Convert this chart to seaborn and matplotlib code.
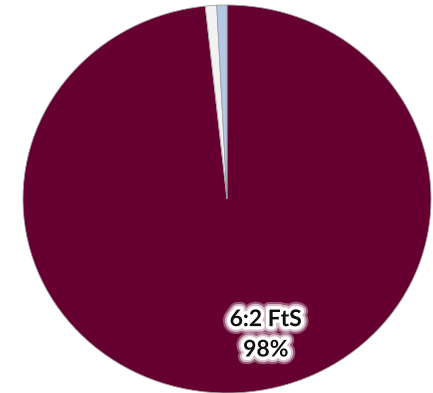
import matplotlib
matplotlib.use("Agg")
import matplotlib.pyplot as plt
import matplotlib.patheffects as pe
import seaborn as sns

categories = ["6:2 FtS", "Other A", "Other B"]
values = [98.3, 0.9, 0.8]
colors = ["#650030", "#f2f2f2", "#b4c7e7"]

sns.set_style("white")
plt.rcParams['font.family'] = ['Lato', 'DejaVu Sans']

fig = plt.figure(figsize=(4.33, 3.93), dpi=100)
ax = fig.add_axes([23/433, 0.0, 408/433, 388/393])
wedges, _ = ax.pie(values, colors=colors, startangle=90, counterclock=False,
                   wedgeprops=dict(edgecolor="#a0a0a0", linewidth=0.6))
ax.set_aspect('auto')
ax.set_xlim(-1, 1)
ax.set_ylim(-1, 1)
ax.axis('off')

pct = values[0] / sum(values) * 100
ax.text(0.19, -0.70, f"{categories[0]}\n{pct:.0f}%", ha="center", va="center",
        fontsize=16.5, fontweight="bold", color="#111111", linespacing=1.55,
        path_effects=[pe.withStroke(linewidth=11, foreground="white", alpha=0.35),
                      pe.withStroke(linewidth=8, foreground="white", alpha=0.6),
                      pe.withStroke(linewidth=5, foreground="white")])

fig.savefig("out.png", dpi=100)
